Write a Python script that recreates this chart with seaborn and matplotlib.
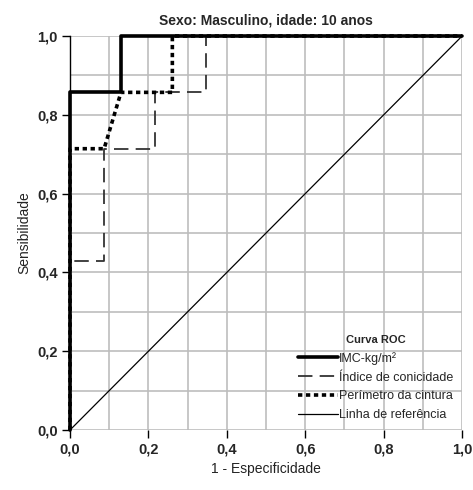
import matplotlib
matplotlib.use("Agg")
import matplotlib.pyplot as plt
import seaborn as sns
import pandas as pd
import numpy as np
from matplotlib.ticker import MultipleLocator, FuncFormatter

# Data (1 - especificidade, sensibilidade)
imc_x = [0.0, 0.0, 0.130, 0.130, 1.0]
imc_y = [0.0, 0.857, 0.857, 1.0, 1.0]
ic_x = [0.0, 0.0, 0.087, 0.087, 0.217, 0.217, 0.348, 0.348, 1.0]
ic_y = [0.0, 0.429, 0.429, 0.714, 0.714, 0.857, 0.857, 1.0, 1.0]
pc_x = [0.0, 0.0, 0.087, 0.130, 0.261, 0.261, 1.0]
pc_y = [0.0, 0.714, 0.714, 0.857, 0.857, 1.0, 1.0]
ref_x = [0.0, 1.0]
ref_y = [0.0, 1.0]
labels = ["IMC-kg/m²", "Índice de conicidade", "Perímetro da cintura", "Linha de referência"]
ticks = [0.0, 0.2, 0.4, 0.6, 0.8, 1.0]

sns.set_theme(style="white")
plt.rcParams['font.family'] = ['Liberation Sans', 'DejaVu Sans']

fig = plt.figure(figsize=(4.73, 4.90), dpi=100)
ax = fig.add_axes([0.148, 0.1224, 0.829, 0.8041])

ax.xaxis.set_minor_locator(MultipleLocator(0.1))
ax.yaxis.set_minor_locator(MultipleLocator(0.1))
ax.grid(which='both', color='#bdbdbd', linewidth=1.2)
ax.set_axisbelow(True)

sns.lineplot(x=ref_x, y=ref_y, ax=ax, color='black', linewidth=0.9, sort=False,
             estimator=None, label=labels[3], zorder=2)
sns.lineplot(x=ic_x, y=ic_y, ax=ax, color='#333333', linewidth=1.3, sort=False,
             estimator=None, label=labels[1], zorder=3)
sns.lineplot(x=pc_x, y=pc_y, ax=ax, color='black', linewidth=2.6, sort=False,
             estimator=None, label=labels[2], zorder=4)
sns.lineplot(x=imc_x, y=imc_y, ax=ax, color='black', linewidth=2.6, sort=False,
             estimator=None, label=labels[0], zorder=5)

lines = ax.get_lines()
lines[1].set_dashes([8, 4])
lines[2].set_dashes([1.2, 1.0])
lines[2].set_dash_capstyle('butt')
for l in lines:
    l.set_clip_on(False)

ax.set_xlim(0, 1)
ax.set_ylim(0, 1)
ax.set_xticks(ticks)
ax.set_yticks(ticks)
fmt = FuncFormatter(lambda v, p: f"{v:.1f}".replace('.', ','))
ax.xaxis.set_major_formatter(fmt)
ax.yaxis.set_major_formatter(fmt)
ax.tick_params(axis='both', which='major', direction='out', length=6, width=1,
               color='black', labelsize=10.5, pad=3, bottom=True, left=True)
ax.tick_params(axis='both', which='minor', length=0)
for lab in ax.get_xticklabels() + ax.get_yticklabels():
    lab.set_fontweight('bold')

for s in ['top', 'right', 'bottom']:
    ax.spines[s].set_visible(False)
ax.spines['left'].set_color('black')
ax.spines['left'].set_linewidth(1.0)

ax.set_xlabel("1 - Especificidade", fontsize=10, color='#222222', labelpad=4)
ax.set_ylabel("Sensibilidade", fontsize=10, color='#222222', labelpad=4)
ax.set_title("Sexo: Masculino, idade: 10 anos", fontsize=10, fontweight='bold', pad=8)

handles, labs = ax.get_legend_handles_labels()
hmap = dict(zip(labs, handles))
leg = ax.legend([hmap[l] for l in labels], labels, title="Curva ROC",
                loc='lower right', bbox_to_anchor=(1.0, 0.0),
                frameon=False, fontsize=9, title_fontproperties={'weight': 'bold', 'size': 8},
                handlelength=3.2, handletextpad=0.1, labelspacing=0.55, borderaxespad=0.3)

fig.savefig("out.png", dpi=100)
